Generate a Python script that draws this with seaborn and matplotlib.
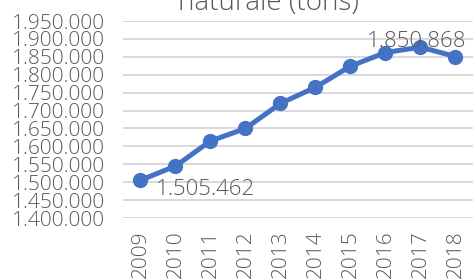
import matplotlib
matplotlib.use("Agg")
import matplotlib.pyplot as plt
import seaborn as sns
import pandas as pd

years = ["2009", "2010", "2011", "2012", "2013", "2014", "2015", "2016", "2017", "2018"]
tons = [1505462, 1545000, 1615000, 1650000, 1720000, 1765000, 1824000, 1862000, 1877000, 1850868]
yticks = [1400000, 1450000, 1500000, 1550000, 1600000, 1650000, 1700000,
          1750000, 1800000, 1850000, 1900000, 1950000]

df = pd.DataFrame({"year": years, "tons": tons})

sns.set_style("white")
plt.rcParams["font.family"] = ["Open Sans", "DejaVu Sans"]

blue = "#4472C4"
grey = "#595959"

fig = plt.figure(figsize=(4.73, 2.79), dpi=100)
ax = fig.add_axes([0.26, 0.2186, 0.74, 0.7061])

sns.lineplot(data=df, x="year", y="tons", ax=ax, color=blue, linewidth=3.6,
             marker="o", markersize=11, markeredgewidth=0, sort=False)

def fmt(v):
    return f"{v:,}".replace(",", ".")

ax.set_ylim(1400000, 1950000)
ax.set_xlim(-0.5, len(years) - 0.5)
ax.set_yticks(yticks)
ax.set_yticklabels([fmt(v) for v in yticks], fontsize=15, color=grey, fontweight="light")
ax.set_xticks(range(len(years)))
ax.set_xticklabels(years, rotation=90, fontsize=15, color=grey, fontweight="light")
ax.tick_params(axis="y", length=0, pad=13)
ax.tick_params(axis="x", length=0, pad=9)
ax.set_xlabel("")
ax.set_ylabel("")
ax.grid(axis="y", color="#D9D9D9", linewidth=1.4)
ax.set_axisbelow(True)
for s in ax.spines.values():
    s.set_visible(False)

ax.annotate(fmt(tons[0]), (0, tons[0]), xytext=(11, 1), textcoords="offset points",
            ha="left", va="top", fontsize=16, color=grey, fontweight="light")
ax.annotate(fmt(tons[-1]), (9, tons[-1]), xytext=(-28, 11), textcoords="offset points",
            ha="center", va="center", fontsize=16, color=grey, fontweight="light")

fig.text(0.568, 1 - 10 / 279, "naturale (tons)", ha="center", va="baseline",
         fontsize=20, color=grey, fontweight="light")

fig.savefig("out.png", dpi=100)
